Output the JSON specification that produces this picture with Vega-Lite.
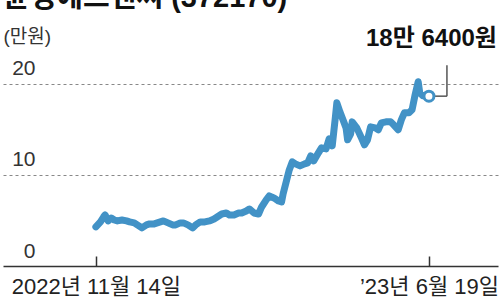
{
  "$schema": "https://vega.github.io/schema/vega-lite/v6.json",
  "width": 495,
  "height": 246,
  "autosize": {"type": "none"},
  "padding": {"left": 3, "top": 20, "right": 2, "bottom": 34},
  "background": "white",
  "config": {"view": {"stroke": null}, "font": "Liberation Sans, Noto Sans CJK KR"},
  "title": {"text": "윤성에프앤씨 (372170)", "anchor": "start", "frame": "group", "fontSize": 29, "fontWeight": "bold", "color": "#111", "baseline": "alphabetic", "offset": 8, "dy": 24},
  "datasets": {
    "prices": [
      {"date": "2022-11-14", "price": 4.29},
      {"date": "2022-11-17", "price": 4.84},
      {"date": "2022-11-19", "price": 5.38},
      {"date": "2022-11-20", "price": 5.6},
      {"date": "2022-11-22", "price": 4.95},
      {"date": "2022-11-24", "price": 5.27},
      {"date": "2022-11-26", "price": 5.05},
      {"date": "2022-11-28", "price": 4.95},
      {"date": "2022-12-01", "price": 5.05},
      {"date": "2022-12-04", "price": 4.95},
      {"date": "2022-12-06", "price": 4.84},
      {"date": "2022-12-09", "price": 4.73},
      {"date": "2022-12-11", "price": 4.51},
      {"date": "2022-12-14", "price": 4.18},
      {"date": "2022-12-17", "price": 4.51},
      {"date": "2022-12-19", "price": 4.62},
      {"date": "2022-12-22", "price": 4.62},
      {"date": "2022-12-26", "price": 4.84},
      {"date": "2022-12-28", "price": 4.95},
      {"date": "2022-12-31", "price": 4.73},
      {"date": "2023-01-03", "price": 4.51},
      {"date": "2023-01-05", "price": 4.51},
      {"date": "2023-01-08", "price": 4.73},
      {"date": "2023-01-10", "price": 4.73},
      {"date": "2023-01-13", "price": 4.51},
      {"date": "2023-01-16", "price": 4.18},
      {"date": "2023-01-18", "price": 4.51},
      {"date": "2023-01-21", "price": 4.84},
      {"date": "2023-01-24", "price": 4.84},
      {"date": "2023-01-27", "price": 4.95},
      {"date": "2023-01-30", "price": 5.16},
      {"date": "2023-02-02", "price": 5.49},
      {"date": "2023-02-04", "price": 5.71},
      {"date": "2023-02-07", "price": 5.82},
      {"date": "2023-02-09", "price": 5.6},
      {"date": "2023-02-12", "price": 5.6},
      {"date": "2023-02-15", "price": 5.82},
      {"date": "2023-02-17", "price": 5.82},
      {"date": "2023-02-20", "price": 6.04},
      {"date": "2023-02-22", "price": 6.26},
      {"date": "2023-02-25", "price": 5.82},
      {"date": "2023-02-28", "price": 5.71},
      {"date": "2023-03-02", "price": 6.48},
      {"date": "2023-03-05", "price": 7.25},
      {"date": "2023-03-07", "price": 7.69},
      {"date": "2023-03-10", "price": 7.47},
      {"date": "2023-03-13", "price": 7.14},
      {"date": "2023-03-15", "price": 7.03},
      {"date": "2023-03-16", "price": 7.91},
      {"date": "2023-03-18", "price": 9.23},
      {"date": "2023-03-20", "price": 10.55},
      {"date": "2023-03-22", "price": 11.43},
      {"date": "2023-03-24", "price": 11.21},
      {"date": "2023-03-27", "price": 10.99},
      {"date": "2023-03-30", "price": 11.21},
      {"date": "2023-04-01", "price": 11.32},
      {"date": "2023-04-03", "price": 12.09},
      {"date": "2023-04-05", "price": 11.54},
      {"date": "2023-04-08", "price": 12.42},
      {"date": "2023-04-10", "price": 12.97},
      {"date": "2023-04-13", "price": 12.86},
      {"date": "2023-04-15", "price": 13.96},
      {"date": "2023-04-17", "price": 13.19},
      {"date": "2023-04-19", "price": 16.26},
      {"date": "2023-04-20", "price": 17.91},
      {"date": "2023-04-22", "price": 16.92},
      {"date": "2023-04-24", "price": 16.04},
      {"date": "2023-04-26", "price": 15.16},
      {"date": "2023-04-27", "price": 13.85},
      {"date": "2023-04-29", "price": 14.51},
      {"date": "2023-04-30", "price": 15.82},
      {"date": "2023-05-03", "price": 15.16},
      {"date": "2023-05-06", "price": 14.07},
      {"date": "2023-05-08", "price": 13.3},
      {"date": "2023-05-10", "price": 13.85},
      {"date": "2023-05-12", "price": 15.27},
      {"date": "2023-05-15", "price": 15.16},
      {"date": "2023-05-17", "price": 14.95},
      {"date": "2023-05-19", "price": 15.71},
      {"date": "2023-05-22", "price": 15.82},
      {"date": "2023-05-25", "price": 15.82},
      {"date": "2023-05-27", "price": 15.49},
      {"date": "2023-05-30", "price": 14.95},
      {"date": "2023-06-01", "price": 16.04},
      {"date": "2023-06-03", "price": 16.81},
      {"date": "2023-06-06", "price": 16.81},
      {"date": "2023-06-08", "price": 17.14},
      {"date": "2023-06-10", "price": 18.79},
      {"date": "2023-06-12", "price": 20.22},
      {"date": "2023-06-13", "price": 19.01},
      {"date": "2023-06-15", "price": 18.68},
      {"date": "2023-06-19", "price": 18.64}
    ],
    "last": [
      {"date": "2023-06-19", "price": 18.64, "label": "18만 6400원"}
    ]
  },
  "encoding": {
    "x": {
      "field": "date",
      "type": "temporal",
      "scale": {"domain": [{"year": 2022, "month": 9, "date": 14, "hours": 12, "utc": true}, {"year": 2023, "month": 8, "date": 3, "utc": true}]},
      "axis": {
        "values": [{"year": 2022, "month": 11, "date": 14, "utc": true}, {"year": 2023, "month": 6, "date": 19, "utc": true}],
        "labelExpr": "datum.index == 0 ? '2022년 11월 14일' : '’23년 6월 19일'",
        "title": null,
        "grid": false,
        "domainColor": "#333",
        "domainWidth": 1.5,
        "tickColor": "#333",
        "tickWidth": 1.5,
        "tickSize": -10,
        "labelPadding": 20,
        "labelFontSize": 22,
        "labelColor": "#222",
        "labelFlush": false,
        "labelOverlap": false
      }
    },
    "y": {
      "field": "price",
      "type": "quantitative",
      "scale": {"domain": [0, 27], "nice": false, "zero": true},
      "axis": {
        "values": [0, 10, 20],
        "title": "(만원)",
        "titleAngle": 0,
        "titleAlign": "left",
        "titleBaseline": "alphabetic",
        "titleX": 0,
        "titleY": 22,
        "titleFontSize": 19,
        "titleFontWeight": "normal",
        "titleColor": "#333",
        "domain": false,
        "ticks": false,
        "tickSize": 0,
        "labelAlign": "right",
        "labelBaseline": "alphabetic",
        "labelPadding": -32,
        "labelOffset": -9,
        "labelFontSize": 21,
        "labelColor": "#333",
        "grid": true,
        "gridDash": [3, 3],
        "gridColor": "#888",
        "gridWidth": 1,
        "gridOpacity": {"condition": {"test": "datum.value == 0", "value": 0}, "value": 1}
      }
    }
  },
  "layer": [
    {
      "data": {"name": "prices"},
      "mark": {"type": "line", "color": "#4292c6", "strokeWidth": 7, "strokeCap": "round", "strokeJoin": "round"}
    },
    {
      "data": {"name": "last"},
      "mark": {"type": "rule", "color": "#555", "strokeWidth": 1.5, "x2Offset": 18},
      "encoding": {"x2": {"field": "date"}}
    },
    {
      "data": {"name": "last"},
      "mark": {"type": "rule", "color": "#555", "strokeWidth": 1.5, "xOffset": 18, "y2Offset": -31},
      "encoding": {"y2": {"field": "price"}}
    },
    {
      "data": {"name": "last"},
      "mark": {"type": "point", "filled": true, "fill": "white", "stroke": "#4292c6", "strokeWidth": 3, "size": 100, "opacity": 1}
    },
    {
      "data": {"name": "last"},
      "mark": {"type": "text", "align": "right", "baseline": "alphabetic", "dx": 68, "dy": -50, "fontSize": 24, "fontWeight": "bold", "color": "#111"},
      "encoding": {"text": {"field": "label"}}
    }
  ]
}
